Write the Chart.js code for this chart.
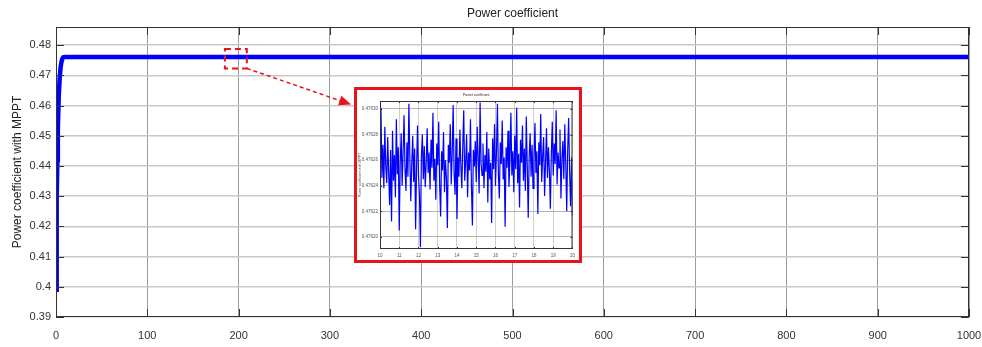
<!DOCTYPE html>
<html>
<head>
<meta charset="utf-8">
<script src="https://cdn.jsdelivr.net/npm/chart.js@4.4.1/dist/chart.umd.min.js"></script>
<style>
  html, body { margin: 0; padding: 0; background: #fff; }
  #wrap { position: relative; width: 982px; height: 347px; overflow: hidden; }
  #main { position: absolute; left: 0; top: 0; }
  #insetBox {
    position: absolute; left: 354px; top: 87px;
    width: 222px; height: 170px;
    border: 3px solid #e8141c; background: #fff;
  }
  #inset { display: block; }
</style>
</head>
<body>
<div id="wrap">
  <canvas id="main" width="982" height="347"></canvas>
  <div id="insetBox"><canvas id="inset" width="222" height="170"></canvas></div>
</div>
<script>
// Main trace: time (s) vs power coefficient
const mainX = [0, 0.5, 1, 1.5, 2, 3, 4, 5, 6, 7, 8, 10, 1000];
const mainY = [0.399, 0.415, 0.430, 0.442, 0.452, 0.463, 0.469, 0.4725, 0.4745, 0.4755, 0.476, 0.4761, 0.4761];
const xTicks = [0, 100, 200, 300, 400, 500, 600, 700, 800, 900, 1000];
const yTicks = [0.39, 0.40, 0.41, 0.42, 0.43, 0.44, 0.45, 0.46, 0.47, 0.48];

// Zoomed-in window (inset), samples from t = 10 to 20
const insetStart = 10;
const insetStep = 0.05;
const insetXTicks = [10, 11, 12, 13, 14, 15, 16, 17, 18, 19, 20];
const insetYTicks = [0.47620, 0.47622, 0.47624, 0.47626, 0.47628, 0.47630];
const insetVals = [
  0.476260, 0.476301, 0.476246, 0.476272, 0.476238, 0.476286, 0.476255, 0.476242, 0.476278, 0.476250,
  0.476225, 0.476268, 0.476212, 0.476283, 0.476244, 0.476264, 0.476231, 0.476292, 0.476249, 0.476270,
  0.476205, 0.476258, 0.476281, 0.476240, 0.476266, 0.476295, 0.476253, 0.476236, 0.476274, 0.476247,
  0.476304, 0.476262, 0.476228, 0.476257, 0.476279, 0.476243, 0.476269, 0.476206, 0.476255, 0.476287,
  0.476248, 0.476233, 0.476192, 0.476263, 0.476280, 0.476245, 0.476271, 0.476239, 0.476258, 0.476285,
  0.476250, 0.476266, 0.476237, 0.476276, 0.476254, 0.476297, 0.476244, 0.476261, 0.476229, 0.476273,
  0.476256, 0.476290, 0.476240, 0.476216, 0.476267, 0.476252, 0.476282, 0.476235, 0.476260, 0.476246,
  0.476207, 0.476272, 0.476258, 0.476288, 0.476241, 0.476265, 0.476303, 0.476250, 0.476233, 0.476277,
  0.476214, 0.476262, 0.476247, 0.476284, 0.476256, 0.476238, 0.476271, 0.476299, 0.476244, 0.476259,
  0.476280, 0.476231, 0.476266, 0.476252, 0.476292, 0.476240, 0.476209, 0.476268, 0.476255, 0.476275,
  0.476243, 0.476286, 0.476261, 0.476234, 0.476305, 0.476257, 0.476248, 0.476273, 0.476238, 0.476264,
  0.476251, 0.476282, 0.476227, 0.476269, 0.476245, 0.476258, 0.476211, 0.476277, 0.476253, 0.476288,
  0.476240, 0.476266, 0.476304, 0.476249, 0.476230, 0.476274, 0.476257, 0.476291, 0.476245, 0.476262,
  0.476208, 0.476270, 0.476254, 0.476283, 0.476239, 0.476260, 0.476297, 0.476248, 0.476267, 0.476235,
  0.476279, 0.476253, 0.476301, 0.476242, 0.476265, 0.476223, 0.476276, 0.476258, 0.476287, 0.476244,
  0.476269, 0.476236, 0.476294, 0.476255, 0.476215, 0.476263, 0.476281, 0.476247, 0.476272, 0.476238,
  0.476260, 0.476289, 0.476250, 0.476267, 0.476218, 0.476274, 0.476256, 0.476296, 0.476243, 0.476263,
  0.476278, 0.476232, 0.476258, 0.476285, 0.476246, 0.476270, 0.476252, 0.476222, 0.476265, 0.476290,
  0.476248, 0.476273, 0.476257, 0.476299, 0.476241, 0.476266, 0.476254, 0.476284, 0.476230, 0.476261,
  0.476275, 0.476245, 0.476288, 0.476258, 0.476220, 0.476268, 0.476293, 0.476251, 0.476224, 0.476262,
  0.476216
];

// Zoom marker on the main plot (data units) and the arrow tip
const zoomBox = { x0: 185, x1: 209, y0: 0.4723, y1: 0.4787 };
const arrowTip = { x: 317, y: 0.4610 };

const FONT = 'Liberation Sans, Arial, Helvetica, sans-serif';
const BLUE = '#0000ff';
const RED = '#e8141c';

// Draws title, axes box and MATLAB-style inward tick marks
function frameDecor(id, title, titleY, titleSize, tickLen) {
  return {
    id,
    afterDraw(chart) {
      const { ctx, chartArea: a, scales } = chart;
      ctx.save();
      ctx.strokeStyle = '#333';
      ctx.lineWidth = 1;
      ctx.strokeRect(a.left + 0.5, a.top + 0.5, a.right - a.left - 1, a.bottom - a.top - 1);
      ctx.beginPath();
      scales.y.ticks.forEach((t) => {
        const py = Math.round(scales.y.getPixelForValue(t.value)) + 0.5;
        ctx.moveTo(a.left, py); ctx.lineTo(a.left + tickLen, py);
        ctx.moveTo(a.right, py); ctx.lineTo(a.right - tickLen, py);
      });
      scales.x.ticks.forEach((t) => {
        const px = Math.round(scales.x.getPixelForValue(t.value)) + 0.5;
        ctx.moveTo(px, a.bottom); ctx.lineTo(px, a.bottom - tickLen);
        ctx.moveTo(px, a.top); ctx.lineTo(px, a.top + tickLen);
      });
      ctx.stroke();
      ctx.fillStyle = '#222';
      ctx.font = `${titleSize}px ${FONT}`;
      ctx.textAlign = 'center';
      ctx.textBaseline = 'middle';
      ctx.fillText(title, (a.left + a.right) / 2, titleY);
      ctx.restore();
    },
  };
}

const zoomMarker = {
  id: 'zoomMarker',
  afterDatasetsDraw(chart) {
    const { ctx, scales: { x, y } } = chart;
    const l = x.getPixelForValue(zoomBox.x0), r = x.getPixelForValue(zoomBox.x1);
    const t = y.getPixelForValue(zoomBox.y1), b = y.getPixelForValue(zoomBox.y0);
    const tx = x.getPixelForValue(arrowTip.x), ty = y.getPixelForValue(arrowTip.y);
    ctx.save();
    ctx.strokeStyle = RED;
    ctx.lineWidth = 2;
    ctx.setLineDash([6, 4]);
    ctx.strokeRect(l, t, r - l, b - t);
    ctx.lineWidth = 1.5;
    ctx.setLineDash([4, 3]);
    ctx.beginPath();
    ctx.moveTo(r, b);
    ctx.lineTo(tx, ty);
    ctx.stroke();
    ctx.setLineDash([]);
    const ang = Math.atan2(ty - b, tx - r);
    ctx.fillStyle = RED;
    ctx.beginPath();
    ctx.moveTo(tx + 6 * Math.cos(ang), ty + 6 * Math.sin(ang));
    ctx.lineTo(tx - 6 * Math.cos(ang) - 5 * Math.sin(ang), ty - 6 * Math.sin(ang) + 5 * Math.cos(ang));
    ctx.lineTo(tx - 6 * Math.cos(ang) + 5 * Math.sin(ang), ty - 6 * Math.sin(ang) - 5 * Math.cos(ang));
    ctx.closePath();
    ctx.fill();
    ctx.restore();
  },
};

new Chart(document.getElementById('main'), {
  type: 'line',
  data: {
    datasets: [{
      data: mainX.map((x, i) => ({ x, y: mainY[i] })),
      borderColor: BLUE,
      borderWidth: 4.5,
      pointRadius: 0,
      tension: 0,
      fill: false,
    }],
  },
  options: {
    responsive: false,
    animation: false,
    layout: { padding: { top: 27, right: 0, left: 0, bottom: 0 } },
    plugins: { legend: { display: false }, tooltip: { enabled: false }, title: { display: false } },
    scales: {
      x: {
        type: 'linear', min: 0, max: 1000,
        afterBuildTicks: (s) => { s.ticks = xTicks.map((v) => ({ value: v })); },
        afterFit: (s) => { s.height = 30; s.paddingRight = 13; s.paddingLeft = 0; },
        ticks: {
          color: '#333', font: { family: FONT, size: 11 }, padding: 12, maxRotation: 0, autoSkip: false,
          callback: (v) => String(v),
        },
        grid: { color: '#9c9c9c', lineWidth: 1, drawTicks: false },
        border: { display: false },
      },
      y: {
        type: 'linear', min: 0.39, max: 0.486,
        afterBuildTicks: (s) => { s.ticks = yTicks.map((v) => ({ value: v })); },
        afterFit: (s) => { s.width = 56; },
        ticks: {
          color: '#333', font: { family: FONT, size: 11 }, padding: 5, autoSkip: false,
          callback: (v) => String(Number(v.toFixed(2))),
        },
        grid: { color: '#c8c8c8', lineWidth: 1.5, drawTicks: false },
        border: { display: false },
        title: {
          display: true, text: 'Power coefficient with MPPT', color: '#222',
          font: { family: FONT, size: 12 }, padding: { top: 10, bottom: 0 },
        },
      },
    },
  },
  plugins: [frameDecor('mainFrame', 'Power coefficient', 14, 12, 8), zoomMarker],
});

new Chart(document.getElementById('inset'), {
  type: 'line',
  data: {
    datasets: [{
      data: insetVals.map((v, i) => ({ x: insetStart + i * insetStep, y: v })),
      borderColor: BLUE,
      borderWidth: 1.2,
      pointRadius: 0,
      tension: 0,
      fill: false,
    }],
  },
  options: {
    responsive: false,
    animation: false,
    layout: { padding: { top: 11, right: 2, left: 0, bottom: 0 } },
    plugins: { legend: { display: false }, tooltip: { enabled: false }, title: { display: false } },
    scales: {
      x: {
        type: 'linear', min: 10, max: 20,
        afterBuildTicks: (s) => { s.ticks = insetXTicks.map((v) => ({ value: v })); },
        afterFit: (s) => { s.height = 11; },
        ticks: {
          color: '#555', font: { family: FONT, size: 4.5 }, padding: 4, maxRotation: 0, autoSkip: false,
          callback: (v) => String(v),
        },
        grid: { color: '#c4c4c4', lineWidth: 0.8, drawTicks: false },
        border: { display: false },
      },
      y: {
        type: 'linear', min: 0.4761906, max: 0.4763062,
        afterBuildTicks: (s) => { s.ticks = insetYTicks.map((v) => ({ value: v })); },
        afterFit: (s) => { s.width = 23; },
        ticks: {
          color: '#555', font: { family: FONT, size: 4.5 }, padding: 2, autoSkip: false,
          callback: (v) => v.toFixed(5),
        },
        grid: { color: '#a0a0a0', lineWidth: 0.8, drawTicks: false },
        border: { display: false },
        title: {
          display: true, text: 'Power coefficient with MPPT', color: '#444',
          font: { family: FONT, size: 3.5 }, padding: { top: 1, bottom: 0 },
        },
      },
    },
  },
  plugins: [frameDecor('insetFrame', 'Power coefficient', 5, 3.5, 2)],
});
</script>
</body>
</html>
